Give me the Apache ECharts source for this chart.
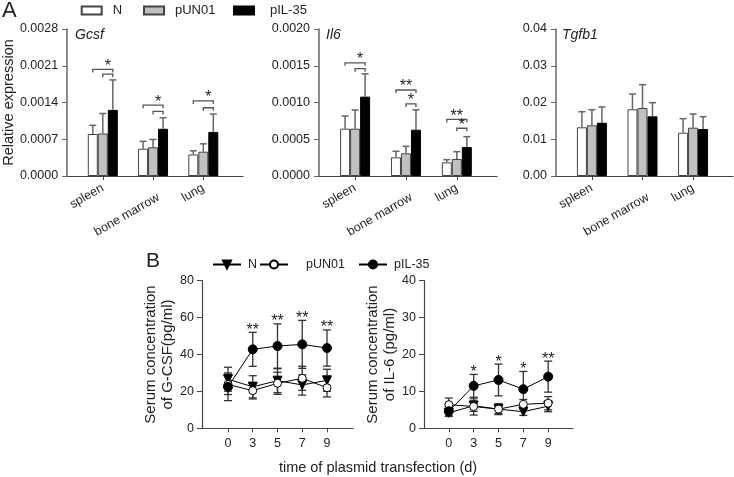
<!DOCTYPE html>
<html><head><meta charset="utf-8">
<script src="https://cdn.jsdelivr.net/npm/echarts@6/dist/echarts.min.js"></script>
<style>html,body{margin:0;padding:0;background:#fff}#c{width:734px;height:477px}</style>
</head><body><div id="c"></div>
<script>
// ---------- Panel A data ----------
const tissues = ['spleen', 'bone marrow', 'lung'];
const groupNames = ['N', 'pUN01', 'pIL-35'];

const gcsfN = [0.00080, 0.00052, 0.00041];
const gcsfPUN01 = [0.00081, 0.000547, 0.000463];
const gcsfPIL35 = [0.00126, 0.00090, 0.00084];
const gcsfNErr = [0.000166, 0.00014, 0.00007];
const gcsfPUN01Err = [0.00038, 0.00015, 0.00015];
const gcsfPIL35Err = [0.00057, 0.00021, 0.00034];
const gcsfBrackets = [[0,0,2,0.00203],[0,1,2,0.00194],[1,0,2,0.00135],[1,1,2,0.00123],[2,0,2,0.00143],[2,1,2,0.00130]];
const gcsfStars = [[0,1,2,0.00203,'*'],[1,1,2,0.00135,'*'],[2,1,2,0.00143,'*']];

const il6N = [0.000644, 0.000254, 0.000186];
const il6PUN01 = [0.000644, 0.000309, 0.000231];
const il6PIL35 = [0.00108, 0.00063, 0.000395];
const il6NErr = [0.000172, 0.000082, 0.000036];
const il6PUN01Err = [0.000254, 0.000095, 0.00010];
const il6PIL35Err = [0.00031, 0.00027, 0.00014];
const il6Brackets = [[0,0,2,0.00154],[0,1,2,0.00146],[1,0,2,0.00117],[1,1,2,0.00098],[2,0,2,0.00077],[2,1,2,0.00065]];
const il6Stars = [[0,1,2,0.00154,'*'],[1,0,2,0.00117,'**'],[1,1,2,0.00098,'*'],[2,0,2,0.00077,'**'],[2,1,2,0.00065,'*']];

const tgfN = [0.01325, 0.01815, 0.01178];
const tgfPUN01 = [0.0138, 0.0185, 0.01315];
const tgfPIL35 = [0.0145, 0.01624, 0.01279];
const tgfNErr = [0.00425, 0.00415, 0.00382];
const tgfPUN01Err = [0.00425, 0.00635, 0.00372];
const tgfPIL35Err = [0.00428, 0.00371, 0.00335];

// ---------- Panel B data ----------
const days = ['0', '3', '5', '7', '9'];
const gcsfB_N = [26.6, 22.5, 25.8, 23.5, 26.0];
const gcsfB_NErr = [6.5, 6.0, 6.5, 5.5, 6.0];
const gcsfB_PUN01 = [23.8, 20.4, 24.4, 27.1, 22.0];
const gcsfB_PUN01Err = [5.5, 4.5, 6.0, 6.5, 5.0];
const gcsfB_PIL35 = [22.5, 42.8, 44.6, 45.5, 43.5];
const gcsfB_PIL35Err = [7.5, 9.2, 12.0, 13.0, 9.8];
const gcsfBStars = ['', '**', '**', '**', '**'];

const il6B_N = [4.2, 6.1, 5.2, 4.5, 6.0];
const il6B_NErr = [1.0, 1.5, 1.2, 1.0, 1.5];
const il6B_PUN01 = [6.4, 5.9, 5.2, 6.5, 6.8];
const il6B_PUN01Err = [1.8, 2.3, 1.5, 1.3, 1.8];
const il6B_PIL35 = [4.6, 11.5, 13.1, 10.6, 14.0];
const il6B_PIL35Err = [1.2, 3.1, 4.3, 4.8, 4.2];
const il6BStars = ['', '*', '*', '*', '**'];

// ---------- build ----------
const FONT = "'Liberation Sans', Arial, sans-serif";
const AX = '#444';
const BAR_W = 10;
const barFill = ['#ffffff', '#c0c0c0', '#000000'];
const barBorder = ['#444444', '#444444', '#000000'];

const aPanels = [
  {means:[gcsfN,gcsfPUN01,gcsfPIL35], errs:[gcsfNErr,gcsfPUN01Err,gcsfPIL35Err], br:gcsfBrackets, stars:gcsfStars, max:0.0028, interval:0.0007, dec:4, left:66, width:177, title:'Gcsf', titleLeft:75},
  {means:[il6N,il6PUN01,il6PIL35], errs:[il6NErr,il6PUN01Err,il6PIL35Err], br:il6Brackets, stars:il6Stars, max:0.0020, interval:0.0005, dec:4, left:319, width:178, title:'Il6', titleLeft:326},
  {means:[tgfN,tgfPUN01,tgfPIL35], errs:[tgfNErr,tgfPUN01Err,tgfPIL35Err], br:[], stars:[], max:0.04, interval:0.01, dec:2, left:556, width:177, title:'Tgfb1', titleLeft:562}
];

const grid = [], xAxis = [], yAxis = [], series = [], title = [];

const tissueLabel = v => {
  const t = tissues[Math.round(v)];
  return t.indexOf(' ') >= 0 ? '{low|' + t + '}' : '{n|' + t + '}';
};

aPanels.forEach((p, k) => {
  grid.push({left:p.left, top:29, width:p.width, height:147});
  xAxis.push({
    type:'value', gridIndex:k, min:-0.71, max:2.79,
    axisLine:{show:true, onZero:false, lineStyle:{color:AX, width:1.2}},
    axisTick:{show:true, customValues:[0,1,2], length:4, lineStyle:{color:AX}},
    axisLabel:{customValues:[0,1,2], formatter:tissueLabel, rotate:30, margin:11, color:'#222',
      rich:{
        n:{fontSize:12.5, fontFamily:FONT, color:'#222'},
        low:{fontSize:12.5, fontFamily:FONT, color:'#222', padding:[22,0,0,0]}
      }},
    splitLine:{show:false}
  });
  yAxis.push({
    type:'value', gridIndex:k, min:0, max:p.max, interval:p.interval,
    name: k === 0 ? 'Relative expression' : '', nameLocation:'middle', nameGap:50,
    nameTextStyle:{fontSize:14.5, color:'#222', fontFamily:FONT},
    axisLine:{show:true, onZero:false, lineStyle:{color:'#666', width:1.5}},
    axisTick:{show:true, length:5, lineStyle:{color:'#666'}},
    axisLabel:{formatter:v => v.toFixed(p.dec), fontSize:12.5, margin:9, color:'#222', fontFamily:FONT},
    splitLine:{show:false}
  });
  title.push({text:p.title, left:p.titleLeft, top:28, padding:0, textStyle:{fontSize:14, fontStyle:'italic', fontWeight:'normal', color:'#222', fontFamily:FONT}});
  for (let g = 0; g < 3; g++) {
    series.push({
      type:'bar', name:groupNames[g], xAxisIndex:k, yAxisIndex:k, barWidth:BAR_W, barGap:'0%',
      data:p.means[g].map((v, i) => [i, v]),
      itemStyle:{color:barFill[g], borderColor:barBorder[g], borderWidth:1},
      z:2, silent:true
    });
  }
  const errData = [];
  for (let g = 0; g < 3; g++) p.means[g].forEach((v, i) => errData.push([i, v, p.errs[g][i], g]));
  series.push({
    type:'custom', xAxisIndex:k, yAxisIndex:k, z:3, silent:true,
    data:errData, encode:{x:0, y:1},
    renderItem:(params, api) => {
      const c = api.value(0), m = api.value(1), e = api.value(2), g = api.value(3);
      const p0 = api.coord([c, m]), p1 = api.coord([c, m + e]);
      const x = p0[0] + (g - 1) * BAR_W;
      const st = {stroke:'#666', lineWidth:1.5};
      return {type:'group', children:[
        {type:'line', shape:{x1:x, y1:p0[1], x2:x, y2:p1[1]}, style:st},
        {type:'line', shape:{x1:x - 3.5, y1:p1[1], x2:x + 3.5, y2:p1[1]}, style:st}
      ]};
    }
  });
  if (p.br.length) {
    series.push({
      type:'custom', xAxisIndex:k, yAxisIndex:k, z:3, silent:true,
      data:p.br.map(b => [b[0], b[3], b[1], b[2]]), encode:{x:0, y:1},
      renderItem:(params, api) => {
        const c = api.value(0), lv = api.value(1), g1 = api.value(2), g2 = api.value(3);
        const pt = api.coord([c, lv]);
        const xa = pt[0] + (g1 - 1) * BAR_W, xb = pt[0] + (g2 - 1) * BAR_W, y = pt[1];
        return {type:'polyline', shape:{points:[[xa, y + 3], [xa, y], [xb, y], [xb, y + 3]]}, style:{stroke:'#555', lineWidth:1.3, fill:null}};
      }
    });
    const starsArr = p.stars;
    series.push({
      type:'custom', xAxisIndex:k, yAxisIndex:k, z:4, silent:true,
      data:starsArr.map(s => [s[0], s[3], s[1], s[2]]), encode:{x:0, y:1},
      renderItem:(params, api) => {
        const c = api.value(0), lv = api.value(1), g1 = api.value(2), g2 = api.value(3);
        const pt = api.coord([c, lv]);
        const xm = pt[0] + ((g1 + g2) / 2 - 1) * BAR_W;
        return {type:'text', x:xm, y:pt[1] - 3, style:{text:starsArr[params.dataIndex][4], align:'center', verticalAlign:'middle', fontSize:16, fontFamily:FONT, fill:'#222'}};
      }
    });
  }
});

// Panel B
const bPanels = [
  {vals:[gcsfB_N, gcsfB_PUN01, gcsfB_PIL35], errs:[gcsfB_NErr, gcsfB_PUN01Err, gcsfB_PIL35Err], stars:gcsfBStars, max:80, interval:20, left:202, width:151, xmin:-1.05, xmax:5.05, name:'Serum concentration\nof G-CSF(pg/ml)'},
  {vals:[il6B_N, il6B_PUN01, il6B_PIL35], errs:[il6B_NErr, il6B_PUN01Err, il6B_PIL35Err], stars:il6BStars, max:40, interval:10, left:424, width:149, xmin:-1, xmax:5, name:'Serum concentration\nof IL-6 (pg/ml)'}
];
const lineNames = ['B:N', 'B:pUN01', 'B:pIL-35'];
const lineSym = [
  {symbol:'triangle', symbolRotate:180, symbolSize:9, itemStyle:{color:'#000', borderColor:'#000', borderWidth:1}},
  {symbol:'circle', symbolRotate:0, symbolSize:8, itemStyle:{color:'#fff', borderColor:'#000', borderWidth:1}},
  {symbol:'circle', symbolRotate:0, symbolSize:9, itemStyle:{color:'#000', borderColor:'#000', borderWidth:1}}
];

bPanels.forEach((p, j) => {
  const k = 3 + j;
  grid.push({left:p.left, top:280.7, width:p.width, height:147.6});
  xAxis.push({
    type:'value', gridIndex:k, min:p.xmin, max:p.xmax,
    axisLine:{show:true, onZero:false, lineStyle:{color:AX, width:1.2}},
    axisTick:{show:true, customValues:[0,1,2,3,4], length:4, lineStyle:{color:AX}},
    axisLabel:{customValues:[0,1,2,3,4], formatter:v => days[Math.round(v)], fontSize:12.5, margin:9, color:'#222', fontFamily:FONT},
    splitLine:{show:false}
  });
  yAxis.push({
    type:'value', gridIndex:k, min:0, max:p.max, interval:p.interval,
    name:p.name, nameLocation:'middle', nameGap:26,
    nameTextStyle:{fontSize:15, lineHeight:16.5, color:'#222', fontFamily:FONT},
    axisLine:{show:true, onZero:false, lineStyle:{color:AX, width:1.2}},
    axisTick:{show:true, length:5, lineStyle:{color:AX}},
    axisLabel:{fontSize:12.5, margin:8, color:'#222', fontFamily:FONT},
    splitLine:{show:false}
  });
  const errData = [];
  for (let g = 0; g < 3; g++) p.vals[g].forEach((v, i) => errData.push([i, v, p.errs[g][i]]));
  series.push({
    type:'custom', xAxisIndex:k, yAxisIndex:k, z:2, silent:true,
    data:errData, encode:{x:0, y:1},
    renderItem:(params, api) => {
      const c = api.value(0), m = api.value(1), e = api.value(2);
      const lo = api.coord([c, m - e]), hi = api.coord([c, m + e]);
      const x = lo[0];
      const st = {stroke:'#333', lineWidth:1.3};
      return {type:'group', children:[
        {type:'line', shape:{x1:x, y1:lo[1], x2:x, y2:hi[1]}, style:st},
        {type:'line', shape:{x1:x - 4, y1:lo[1], x2:x + 4, y2:lo[1]}, style:st},
        {type:'line', shape:{x1:x - 4, y1:hi[1], x2:x + 4, y2:hi[1]}, style:st}
      ]};
    }
  });
  for (let g = 0; g < 3; g++) {
    series.push(Object.assign({
      type:'line', name:lineNames[g], xAxisIndex:k, yAxisIndex:k, z:4, silent:true,
      data:p.vals[g].map((v, i) => [i, v]),
      lineStyle:{color:'#000', width:1},
      showAllSymbol:true
    }, lineSym[g]));
  }
  const stars = p.stars, pv = p.vals[2], pe = p.errs[2];
  series.push({
    type:'custom', xAxisIndex:k, yAxisIndex:k, z:5, silent:true,
    data:pv.map((v, i) => [i, v + pe[i]]), encode:{x:0, y:1},
    renderItem:(params, api) => {
      const pt = api.coord([api.value(0), api.value(1)]);
      return {type:'text', x:pt[0], y:pt[1] - 2, style:{text:stars[params.dataIndex], align:'center', verticalAlign:'middle', fontSize:16, fontFamily:FONT, fill:'#222'}};
    }
  });
});

title.push({text:'A', left:2, top:0, padding:0, textStyle:{fontSize:22, fontWeight:'normal', color:'#222', fontFamily:FONT}});
title.push({text:'B', left:146, top:251, padding:0, textStyle:{fontSize:21, fontWeight:'normal', color:'#222', fontFamily:FONT}});

const legA = (name, left, pad) => ({
  data:[name], left:left, top:4, padding:0, icon:'rect', itemWidth:20, itemHeight:8, selectedMode:false,
  textStyle:{fontSize:13, color:'#222', fontFamily:FONT, padding:[0,0,0,pad]}
});
const legB = (name, left, pad) => ({
  data:[name], left:left, top:258, padding:0, itemWidth:28, itemHeight:10, selectedMode:false,
  formatter:n => n.replace('B:', ''),
  textStyle:{fontSize:12.5, color:'#222', fontFamily:FONT, padding:[0,0,0,pad]}
});

const option = {
  animation:false,
  backgroundColor:'#fff',
  textStyle:{fontFamily:FONT},
  title:title,
  legend:[legA('N', 80.7, 6), legA('pUN01', 143, 6), legA('pIL-35', 233, 11),
          legB('B:N', 212, 2), legB('B:pUN01', 259, 13), legB('B:pIL-35', 358, 2)],
  grid:grid, xAxis:xAxis, yAxis:yAxis, series:series,
  graphic:[{type:'text', x:378, y:468, style:{text:'time of plasmid transfection (d)', align:'center', verticalAlign:'middle', fontSize:14.5, fontFamily:FONT, fill:'#222'}}]
};

const chart = echarts.init(document.getElementById('c'));
chart.setOption(option);
</script>
</body></html>
